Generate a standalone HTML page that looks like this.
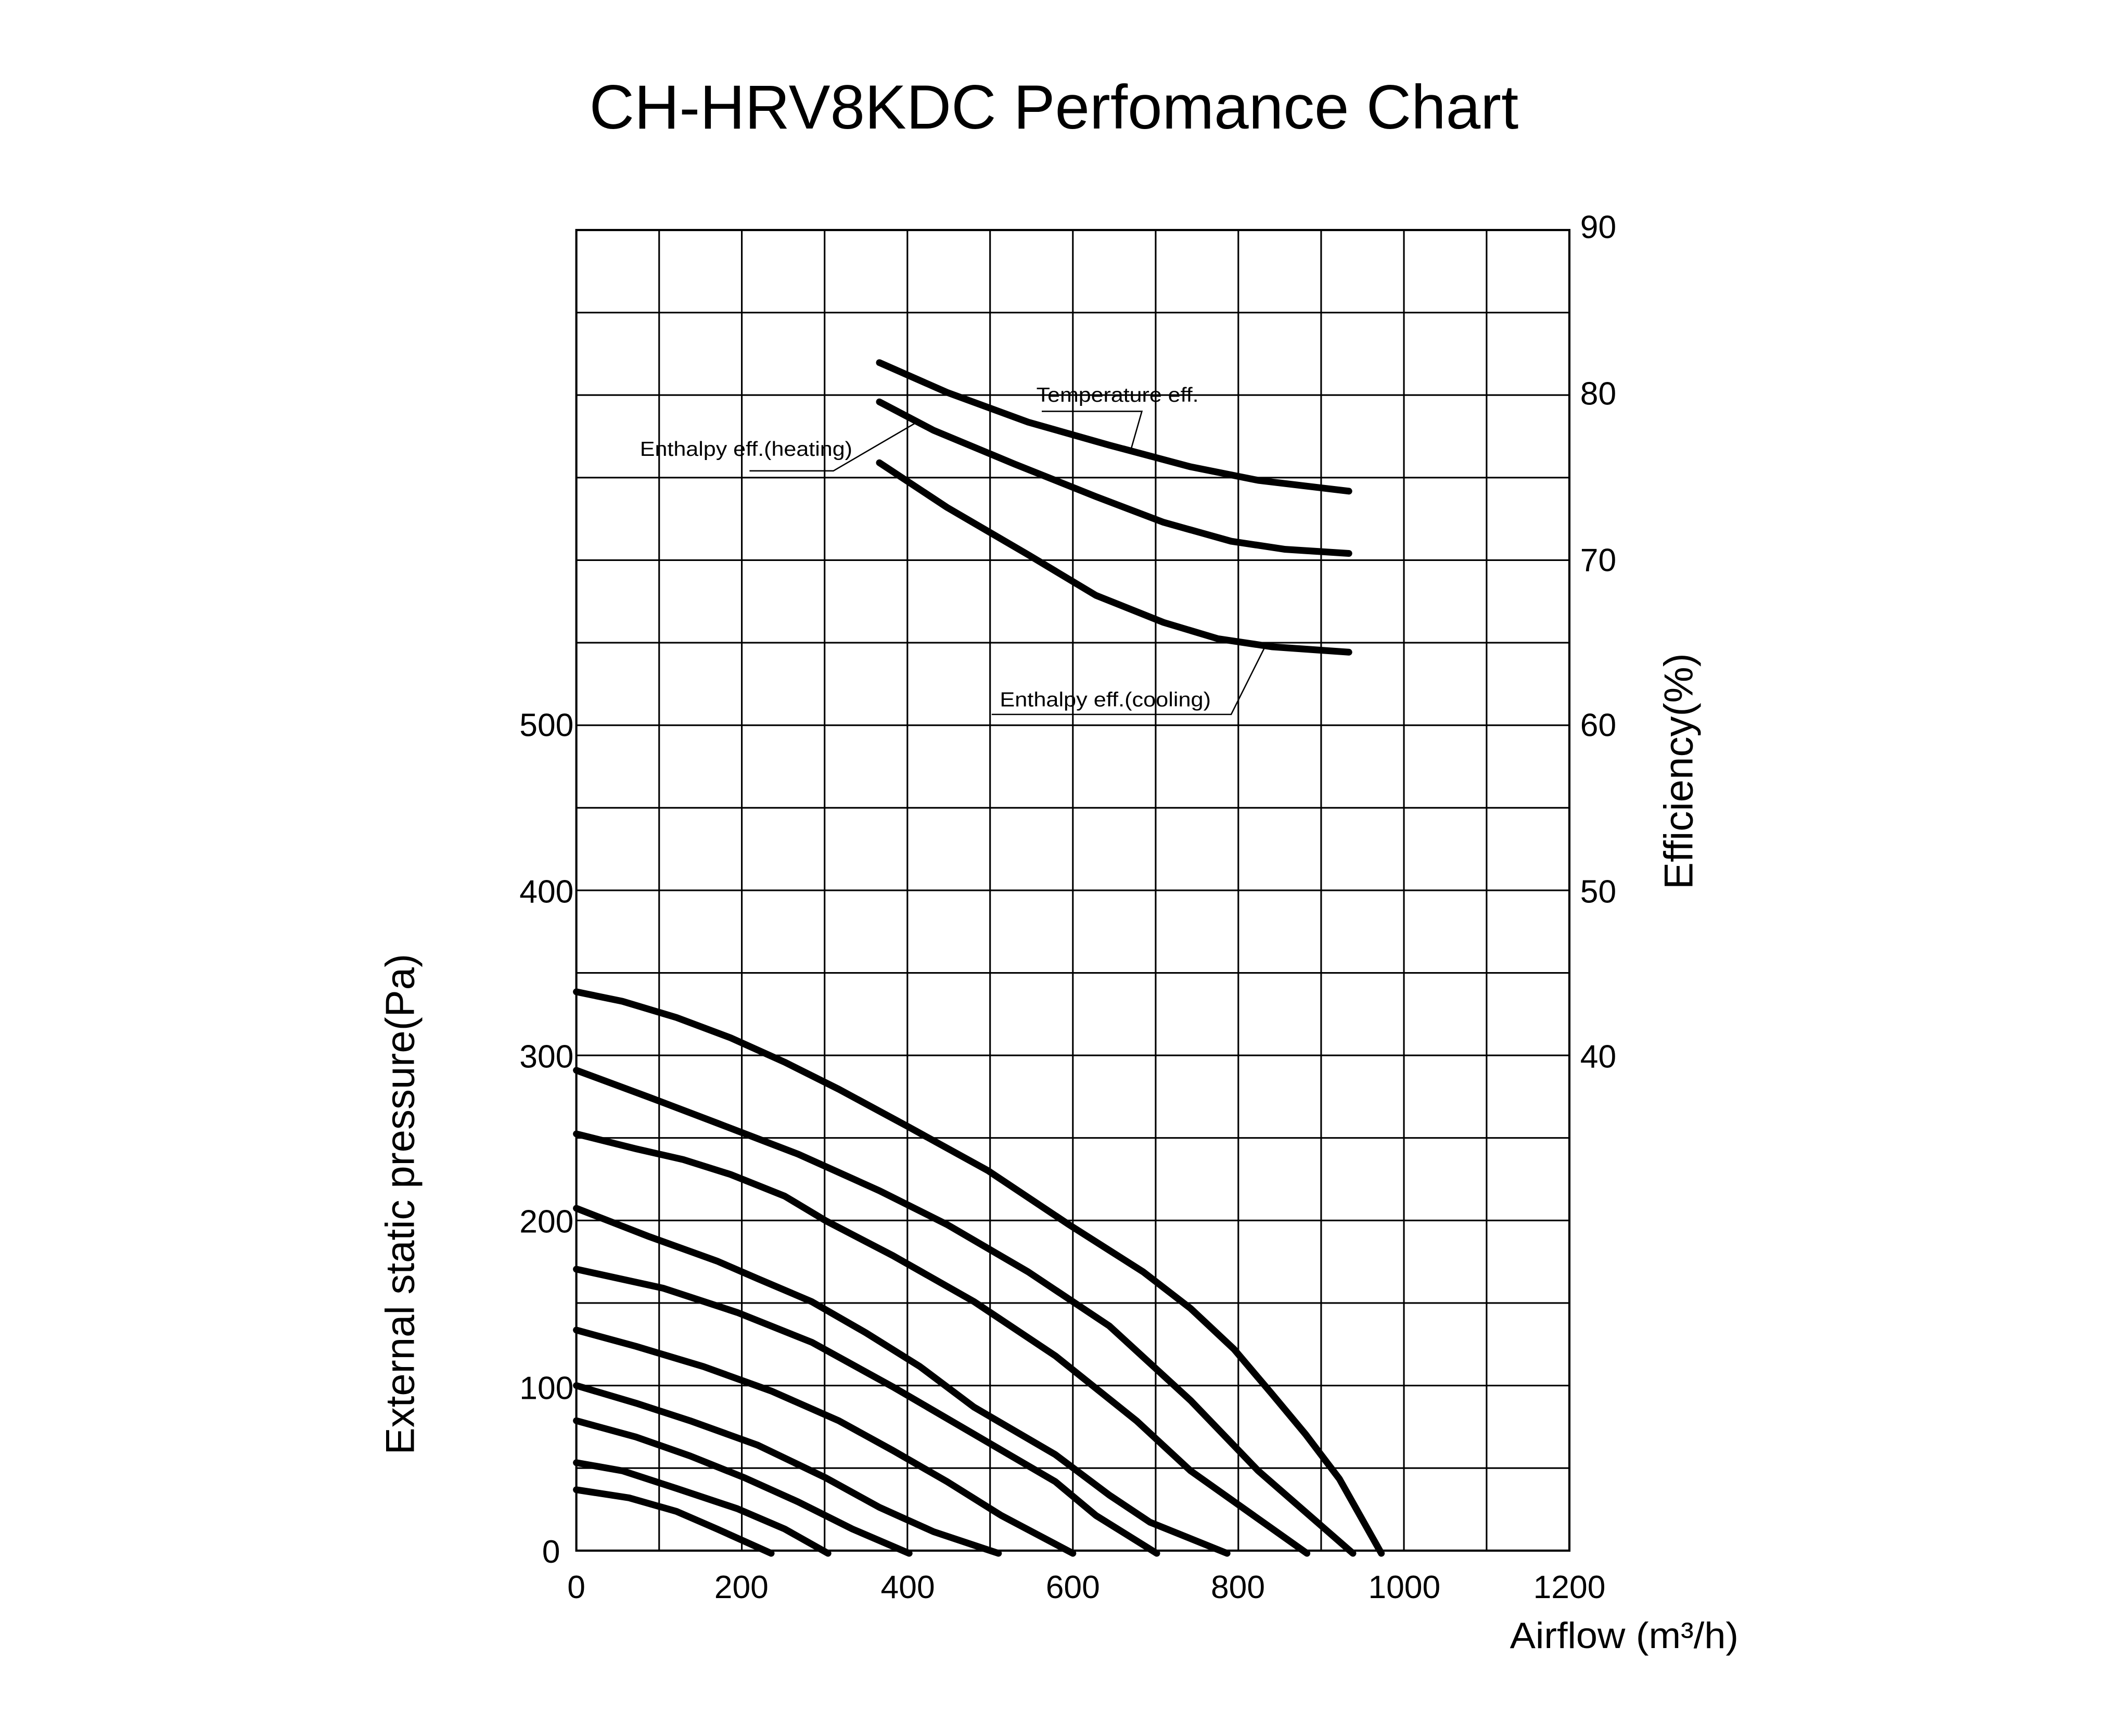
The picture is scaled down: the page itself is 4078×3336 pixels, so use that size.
<!DOCTYPE html>
<html><head><meta charset="utf-8"><style>html,body{margin:0;padding:0;background:#fff}svg{display:block}</style></head>
<body>
<svg width="4078" height="3336" viewBox="0 0 1568.46 1283" preserveAspectRatio="none" xmlns="http://www.w3.org/2000/svg" font-family="Liberation Sans, sans-serif">
<rect width="1568.46" height="1283" fill="#fff"/>
<text x="779" y="95" font-size="46" text-anchor="middle" fill="#000">CH-HRV8KDC Perfomance Chart</text>
<g stroke="#000" stroke-width="1.2" fill="none">
<path d="M487.2 170V1146M548.3 170V1146M609.5 170V1146M670.7 170V1146M731.8 170V1146M793 170V1146M854.2 170V1146M915.3 170V1146M976.5 170V1146M1037.7 170V1146M1098.8 170V1146"/>
<path d="M426 231H1160M426 292H1160M426 353H1160M426 414H1160M426 475H1160M426 536H1160M426 597H1160M426 658H1160M426 719H1160M426 780H1160M426 841H1160M426 902H1160M426 963H1160M426 1024H1160M426 1085H1160"/>
<rect x="426" y="170" width="734" height="976" stroke-width="1.6"/>
</g>
<g stroke="#000" stroke-width="5" fill="none" stroke-linecap="round" stroke-linejoin="round">
<polyline points="426,733 460,740 500,752 540,767 580,785 620,805 670,832 730,865 790,905 845,940 880,967 912,997 940,1030 965,1060 990,1093 1021,1148"/>
<polyline points="426,791 480,811 530,830 590,853 650,880 700,905 760,940 820,980 880,1035 930,1087 1000,1148"/>
<polyline points="426,838 470,849 505,857 540,868 580,884 610,902 660,928 720,962 780,1002 840,1050 880,1087 966,1148"/>
<polyline points="426,893 480,914 530,932 560,945 600,962 640,985 680,1010 720,1040 780,1075 820,1105 850,1125 907,1148"/>
<polyline points="426,938 490,952 545,970 600,992 660,1025 720,1060 780,1095 810,1120 855,1148"/>
<polyline points="426,983 470,995 520,1010 570,1028 620,1050 660,1072 700,1095 740,1120 793,1148"/>
<polyline points="426,1024 470,1037 510,1050 560,1068 610,1092 650,1114 690,1132 738,1148"/>
<polyline points="426,1050 470,1062 510,1076 550,1092 590,1110 630,1130 672,1148"/>
<polyline points="426,1081 460,1087 500,1100 545,1115 580,1130 612,1148"/>
<polyline points="426,1101 465,1107 500,1117 530,1130 570,1148"/>
<polyline points="650,268 700,290 760,312 820,329 880,345 930,355 997,363"/>
<polyline points="650,297 690,318 750,343 810,367 860,386 910,400 950,406 997,409"/>
<polyline points="650,342 700,375 760,410 810,440 860,460 900,472 940,478 997,482"/>
</g>
<g stroke="#000" stroke-width="1" fill="none">
<polyline points="770,304 844,304 836,332"/>
<polyline points="554,348 616,348 676,313"/>
<polyline points="733,528 910,528 935,478"/>
</g>
<g font-size="15" fill="#000">
<text x="766" y="297" textLength="120" lengthAdjust="spacingAndGlyphs">Temperature eff.</text>
<text x="473" y="337" textLength="157" lengthAdjust="spacingAndGlyphs">Enthalpy eff.(heating)</text>
<text x="739" y="522" textLength="156" lengthAdjust="spacingAndGlyphs">Enthalpy eff.(cooling)</text>
</g>
<g font-size="24" fill="#000">
<g text-anchor="end">
<text x="424" y="544">500</text><text x="424" y="667">400</text><text x="424" y="789">300</text>
<text x="424" y="911">200</text><text x="424" y="1034">100</text><text x="414" y="1155">0</text>
</g>
<g>
<text x="1168" y="176">90</text><text x="1168" y="299">80</text><text x="1168" y="422">70</text>
<text x="1168" y="544">60</text><text x="1168" y="667">50</text><text x="1168" y="789">40</text>
</g>
<g text-anchor="middle">
<text x="426" y="1181">0</text><text x="548" y="1181">200</text><text x="671" y="1181">400</text>
<text x="793" y="1181">600</text><text x="915" y="1181">800</text><text x="1038" y="1181">1000</text><text x="1160" y="1181">1200</text>
</g>
</g>
<text x="1116" y="1218" font-size="27" fill="#000" textLength="169" lengthAdjust="spacingAndGlyphs">Airflow (m³/h)</text>
<text transform="translate(1251,570) rotate(-90)" font-size="30" text-anchor="middle" fill="#000">Efficiency(%)</text>
<text transform="translate(306,890) rotate(-90)" font-size="30" text-anchor="middle" fill="#000">External static pressure(Pa)</text>
</svg>
</body></html>
